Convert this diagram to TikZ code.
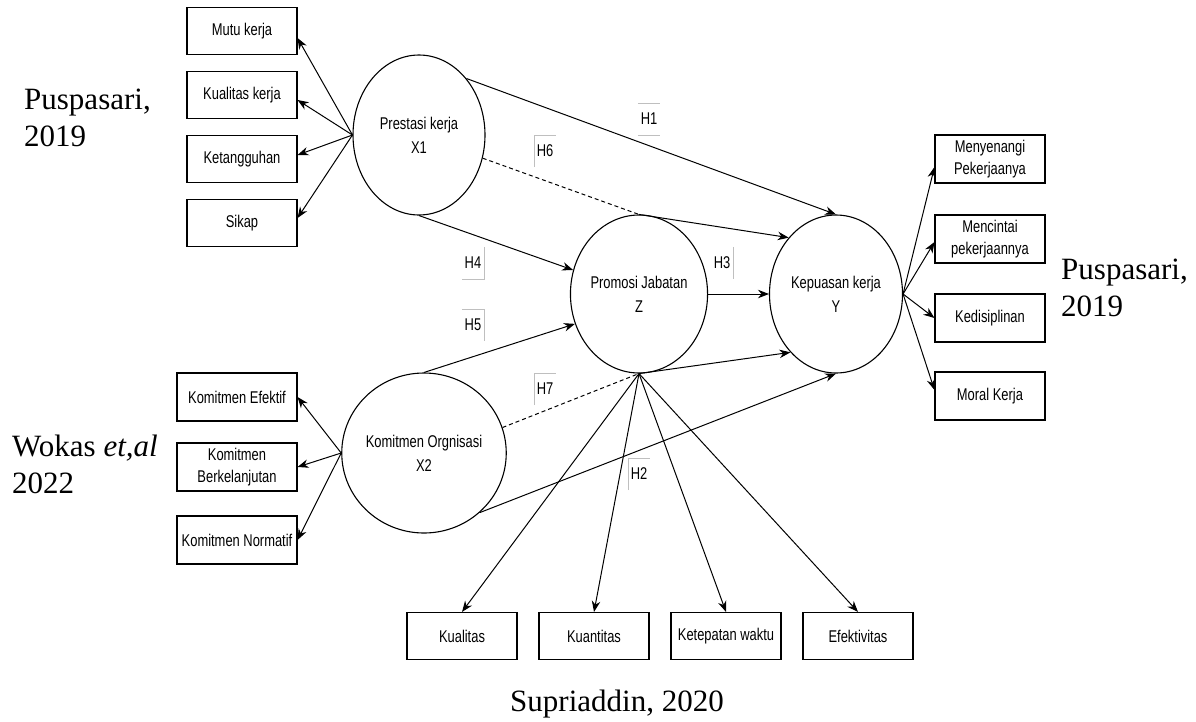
\documentclass[tikz,border=0pt]{standalone}
\usepackage{fontspec}
\setmainfont{Liberation Serif}
\newfontfamily\labfont[FakeStretch=0.76]{Liberation Sans}
\usetikzlibrary{shapes.geometric,arrows.meta,calc}
\begin{document}
\begin{tikzpicture}[x=1pt,y=-1pt,
 box/.style={draw, line width=1.1pt, minimum width=110pt, minimum height=47pt, inner sep=0pt, align=center, font=\labfont\fontsize{17}{22}\selectfont},
 lat/.style={ellipse, draw, line width=1.1pt, minimum width=132pt, minimum height=158pt, inner sep=0pt, align=center, font=\labfont\fontsize{17}{24}\selectfont},
 arr/.style={-{Stealth[length=11pt,width=8.5pt]}, line width=1pt},
 dashedline/.style={dash pattern=on 4pt off 3pt, line width=1pt},
 hlab/.style={font=\labfont\fontsize{17}{17}\selectfont, minimum width=22pt, minimum height=32pt, inner sep=0pt},
 faint/.style={draw=black!25, line width=0.6pt},
 cite/.style={font=\fontsize{31}{37}\selectfont, align=left, inner sep=0pt}]
\useasboundingbox (0,0) rectangle (1196,721);

% latent variables
\node[lat, minimum height=160pt] (x1) at (419,135) {Prestasi kerja\\X1};
\node[lat, minimum width=143pt, minimum height=160pt] (x2) at (424,453) {Komitmen Orgnisasi\\X2};
\node[lat] (z) at (639,294) {Promosi Jabatan\\Z};
\node[lat, minimum width=133pt] (y) at (836,294) {Kepuasan kerja\\Y};

% indicators X1
\node[box] (mutu) at (242,31) {Mutu kerja};
\node[box] (kual) at (242,95) {Kualitas kerja};
\node[box] (ketang) at (242,159) {Ketangguhan};
\node[box] (sikap) at (242,223) {Sikap};

% indicators X2
\node[box, minimum width=120pt, minimum height=48pt] (efek) at (237,397) {Komitmen Efektif};
\node[box, minimum width=120pt, minimum height=48pt] (berk) at (237,467) {Komitmen\\Berkelanjutan};
\node[box, minimum width=120pt, minimum height=48pt] (norm) at (237,540) {Komitmen Normatif};

% indicators Y
\node[box, minimum height=48pt] (meny) at (990,159) {Menyenangi\\Pekerjaanya};
\node[box, minimum height=48pt] (menc) at (990,239) {Mencintai\\pekerjaannya};
\node[box, minimum height=48pt] (kedis) at (990,318) {Kedisiplinan};
\node[box, minimum height=48pt] (moral) at (990,396) {Moral Kerja};

% indicators Z
\node[box] (kualitas) at (462,636) {Kualitas};
\node[box] (kuantitas) at (594,636) {Kuantitas};
\node[box] (ketepatan) at (726,636) {Ketepatan waktu};
\node[box] (efektivitas) at (858,636) {Efektivitas};

% citations
\node[cite, anchor=north west] (c1) at (24,89) {Puspasari,\\2019};
\node[cite, anchor=north west] (c2) at (1061,259) {Puspasari,\\2019};
\node[cite, anchor=north west] (c3) at (12,435) {Wokas \textit{et,al}\\2022};
\node[cite, anchor=north] (c4) at (617,690) {Supriaddin, 2020};

% reflective arrows
\draw[arr] (x1.west) -- ($(mutu.east)+(0,7)$);
\draw[arr] (x1.west) -- ($(kual.east)+(0,5)$);
\draw[arr] (x1.west) -- ($(ketang.east)+(0,-4)$);
\draw[arr] (x1.west) -- ($(sikap.east)+(0,-5)$);
\draw[arr] (x2.west) -- (efek.east);
\draw[arr] (x2.west) -- (berk.east);
\draw[arr] (x2.west) -- (norm.east);
\draw[arr] (y.east) -- ($(meny.west)+(0,8)$);
\draw[arr] (y.east) -- ($(menc.west)+(0,3)$);
\draw[arr] (y.east) -- (kedis.west);
\draw[arr] (y.east) -- ($(moral.west)+(0,-6)$);
\draw[arr] (z.south) -- (kualitas.north);
\draw[arr] (z.south) -- (kuantitas.north);
\draw[arr] (z.south) -- (ketepatan.north);
\draw[arr] (z.south) -- (efektivitas.north);

% structural paths
\draw[arr] (x1.50) -- (y.north);
\draw[dashedline] (x1.-20) -- (z.north);
\draw[arr] (z.north) -- (y.130);
\draw[arr] (x1.south) -- (z.160);
\draw[arr] (x2.north) -- (z.205);
\draw[arr] (z.east) -- (y.west);
\draw[dashedline] (x2.18) -- (z.south);
\draw[arr] (z.south) -- (y.232);
\draw[arr] (x2.-47) -- (y.south);

% hypothesis labels
\node[hlab] (h1) at (649,119) {H1};
\node[hlab] (h6) at (545,151) {H6};
\node[hlab] (h4) at (473,263) {H4};
\node[hlab] (h5) at (473,325) {H5};
\node[hlab] (h3) at (722,263) {H3};
\node[hlab] (h7) at (545,389) {H7};
\node[hlab] (h2) at (639,474) {H2};
\draw[faint] (h1.north west) -- (h1.north east);
\draw[faint] (h1.south west) -- (h1.south east);
\draw[faint] (h6.south west) -- (h6.north west) -- (h6.north east);
\draw[faint] (h4.north east) -- (h4.south east) -- (h4.south west);
\draw[faint] (h5.north west) -- (h5.north east) -- (h5.south east);
\draw[faint] (h3.north east) -- (h3.south east);
\draw[faint] (h7.south west) -- (h7.north west) -- (h7.north east);
\draw[faint] (h2.south west) -- (h2.north west) -- (h2.north east);
\end{tikzpicture}
\end{document}
